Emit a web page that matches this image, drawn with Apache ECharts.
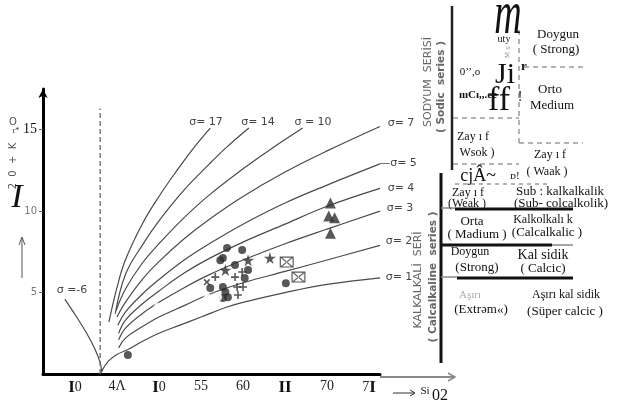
<!DOCTYPE html>
<html><head><meta charset="utf-8">
<script src="https://cdn.jsdelivr.net/npm/echarts@6/dist/echarts.min.js"></script>
<style>html,body{margin:0;padding:0;background:#fff}#c{width:617px;height:403px}</style>
</head><body><div id="c"></div>
<script>
// ---- tick labels ----
const xTickValues = [40, 45, 50, 55, 60, 65, 70, 75];
const xTickLabels = ["I0", "4Λ", "I0", "55", "60", "II", "70", "7I"];
const yTickValues = [5, 10, 15];
const yTickLabels = ["5", "10", "15"];

// ---- sigma curves (SiO2, Na2O+K2O) ----
const sigmaNames = ["σ= 17", "σ= 14", "σ = 10", "σ= 7", "σ= 5", "σ= 4", "σ= 3", "σ= 2", "σ= 1", "σ =-6"];
const sig17 = [[44.05,3.2],[45,5.3],[46,7.0],[48,9.2],[50,10.9],[52,12.4],[54,13.8],[56.1,15.1]];
const sig14 = [[44.8,3.7],[46,6.1],[48,7.9],[50,9.4],[53,11.3],[56,12.9],[58,13.9],[60.7,15.1]];
const sig10 = [[44.9,3.9],[46,5.2],[48,6.8],[50,8.0],[53,9.6],[56,11.0],[60,12.6],[63,13.7],[67.1,15.1]];
const sig7  = [[45.0,3.5],[46,4.4],[48,5.8],[50,6.9],[53,8.3],[56,9.5],[60,10.9],[65,12.4],[70,13.7],[76.3,15.2]];
const sig5  = [[45.1,3.0],[46,3.8],[48,4.9],[50,5.8],[53,7.0],[56,8.0],[60,9.2],[65,10.5],[70,11.6],[76.3,12.9]];
const sig4  = [[45.2,2.5],[46,3.3],[48,4.3],[50,5.1],[53,6.2],[56,7.1],[60,8.1],[65,9.2],[70,10.3],[76.3,11.4]];
const sig3  = [[45.2,2.1],[46,2.8],[48,3.7],[50,4.4],[53,5.3],[56,6.1],[60,7.0],[65,8.0],[70,8.9],[76.3,10.0]];
const sig2  = [[45.2,1.6],[46,2.2],[48,2.9],[50,3.5],[53,4.2],[56,4.9],[60,5.6],[65,6.3],[70,7.0],[76.3,7.9]];
const sig1  = [[43.1,0.1],[44,0.8],[45,1.2],[46.3,1.5],[48,2.0],[50,2.5],[52.5,3.0],[55,3.5],[58,4.1],[60,4.4],[65,5.0],[70,5.5],[76.3,5.9]];
const sigNeg6 = [[38.8,4.6],[40.2,3.5],[41.4,2.5],[42.4,1.5],[43.0,0.7],[43.2,0.1]];
const dashedLimit = [[43,0],[43,16.3]];

// ---- samples ----
const filledCircles = [[46.3,1.17],[58.1,7.73],[59.9,7.61],[57.3,6.99],[57.6,7.12],[59.05,6.69],[60.6,6.38],[60.2,5.89],[57.6,5.34],[57.9,5.03],[56.1,5.28],[58.2,4.72],[57.6,4.66],[65.1,5.58]];
const openCircles = [[56.8,8.77],[49.9,4.11],[58.8,7.42],[55.8,4.66],[56.4,4.6],[57.0,4.72]];
const stars = [[57.9,6.38],[63.2,7.12],[60.6,6.99]];
const pluses = [[56.7,5.95],[59.05,5.95],[59.9,6.26],[59.3,5.34],[60.0,5.34],[59.4,4.85]];
const crosses = [[55.7,5.64]];
const envelopes = [[65.2,6.87],[66.6,5.95]];
const triangles = [[70.4,10.5],[70.2,9.7],[70.9,9.6],[70.4,8.65]];

const SERIF = '"Liberation Serif", "DejaVu Serif", serif';
const SANS = '"DejaVu Sans", "Liberation Sans", sans-serif';

const curves = [sig17, sig14, sig10, sig7, sig5, sig4, sig3, sig2, sig1, sigNeg6];
const series = curves.map((d, i) => ({
  name: sigmaNames[i], type: 'line', data: d, smooth: 0.4, symbol: 'none',
  lineStyle: { color: '#4a4a4a', width: 1.2 }, silent: true, z: 2
}));
series.push({ type: 'line', data: dashedLimit, symbol: 'none',
  lineStyle: { color: '#666', width: 1.3, type: [5, 3] }, silent: true });

const starPath = 'path://M50,0 L61,35 L98,35 L68,57 L79,91 L50,70 L21,91 L32,57 L2,35 L39,35Z';
const plusPath = 'path://M4,0H6V4H10V6H6V10H4V6H0V4H4Z';
const envPath = 'path://M0,0H12V9H0Z M1,1V8H11V1Z M1,1L2.2,1L11,7.8L11,8L9.8,8L1,1.2Z M11,1L9.8,1L1,7.8L1,8L2.2,8L11,1.2Z';
function sc(data, symbol, size, extra) {
  return Object.assign({ type: 'scatter', data: data, symbol: symbol, symbolSize: size,
    itemStyle: { color: '#2e2e2e' }, silent: true, z: 5 }, extra || {});
}
series.push(sc(filledCircles, 'circle', 8));
series.push(sc(openCircles, 'emptyCircle', 6.5, { itemStyle: { color: '#fff', borderColor: '#444', borderWidth: 1.5 } }));
series.push(sc(stars, starPath, 12));
series.push(sc(pluses, plusPath, 8));
series.push(sc(crosses, plusPath, 8, { symbolRotate: 45 }));
series.push(sc(envelopes, envPath, [14, 11]));
series.push(sc(triangles, 'triangle', 11));

function T(text, x, y, size, opt) {
  opt = opt || {};
  return { type: 'text', x: x, y: y, rotation: opt.rot || 0, scaleX: opt.sx || 1, scaleY: opt.sy || 1,
    z: 10, silent: true,
    style: { text: text, fontSize: size, fontFamily: opt.font || SERIF, fontStyle: opt.italic ? 'italic' : 'normal',
      fontWeight: opt.bold ? 'bold' : 'normal', fill: opt.color || '#111', align: 'center', verticalAlign: 'middle' } };
}
function L(x1, y1, x2, y2, w, color, dash) {
  return { type: 'line', z: 9, silent: true, shape: { x1: x1, y1: y1, x2: x2, y2: y2 },
    style: { stroke: color || '#111', lineWidth: w, lineDash: dash || null } };
}
const DG = '#9a9a9a';
const graphics = [
  // sigma labels
  T(sigmaNames[0], 206, 122, 11, { font: SANS, color: '#444' }),
  T(sigmaNames[1], 258, 122, 11, { font: SANS, color: '#444' }),
  T(sigmaNames[2], 313, 122, 11, { font: SANS, color: '#444' }),
  T(sigmaNames[3], 401, 123, 11, { font: SANS, color: '#444' }),
  T('—' + sigmaNames[4], 398, 163, 11, { font: SANS, color: '#444' }),
  T(sigmaNames[5], 401, 188, 11, { font: SANS, color: '#444' }),
  T(sigmaNames[6], 400, 208, 11, { font: SANS, color: '#444' }),
  T(sigmaNames[7], 399, 241, 11, { font: SANS, color: '#444' }),
  T(sigmaNames[8], 399, 277, 11, { font: SANS, color: '#444' }),
  T(sigmaNames[9], 72, 290, 11, { font: SANS, color: '#444' }),
  // y axis title pieces
  T('O', 13, 122, 10, { font: SANS, color: '#555' }),
  T('r*', 16, 131, 8, { color: '#333' }),
  T('2  0  +  K', 13, 166, 10, { font: SANS, color: '#555', rot: Math.PI / 2 }),
  T('I', 17, 198, 34, { italic: true }),
  L(22, 278, 22, 238, 1, '#555'),
  { type: 'polyline', z: 9, silent: true, shape: { points: [[19, 245], [22, 237], [25, 245]] }, style: { stroke: '#555', lineWidth: 1, fill: null } },
  // x axis extension arrow & SiO2
  L(380, 377, 455, 377, 2, '#8a8a8a'),
  { type: 'polyline', z: 9, silent: true, shape: { points: [[448, 373], [455, 377], [448, 381]] }, style: { stroke: '#8a8a8a', lineWidth: 1.5, fill: null } },
  L(393, 393, 414, 393, 1, '#333'),
  { type: 'polyline', z: 9, silent: true, shape: { points: [[410, 390], [415, 393], [410, 396]] }, style: { stroke: '#333', lineWidth: 1, fill: null } },
  T('Si', 425, 391, 11),
  T('02', 440, 396, 16),
  // panel lines
  L(452, 6, 452, 170, 2.5, '#222'),
  L(441, 173, 441, 363, 3, '#111'),
  L(441, 208, 455, 208, 1.5, '#888'),
  L(455, 209, 573, 209, 3, '#111'),
  L(442, 245, 552, 245, 3, '#111'),
  L(552, 245, 573, 245, 1.5, '#888'),
  L(441, 277, 457, 277, 1.5, '#888'),
  L(457, 278, 573, 278, 3, '#111'),
  L(519, 30, 519, 143, 1.5, DG, [5, 4]),
  L(453, 118, 519, 118, 1.5, DG, [5, 4]),
  L(519, 143, 583, 143, 1.5, DG, [5, 4]),
  L(524, 67, 583, 67, 1.5, DG, [5, 4]),
  L(453, 164, 519, 164, 1.5, DG, [5, 4]),
  L(455, 184, 550, 184, 1.5, DG, [4, 4]),
  // rotated series names
  T('SODYUM  SERİSİ', 428, 82, 11, { font: SANS, color: '#666', rot: Math.PI / 2 }),
  T('( Sodic  series )', 441, 87, 10.5, { font: SANS, color: '#666', rot: Math.PI / 2, bold: true }),
  T('KALKALKALİ  SERİ', 418, 280, 11, { font: SANS, color: '#666', rot: Math.PI / 2 }),
  T('( Calcalkaline  series )', 433, 277, 10.5, { font: SANS, color: '#666', rot: Math.PI / 2, bold: true }),
  // upper panel texts
  T('m', 508, 17, 38, { italic: true, sy: 1.6 }),
  T('uty', 504, 39, 10),
  T('M s', 508, 52, 7, { font: SANS, color: '#999', rot: Math.PI / 2 }),
  T('Doygun', 558, 35, 13),
  T('( Strong)', 556, 50, 13),
  T('r', 524, 67, 13, { bold: true }),
  T('0’’,o', 470, 72, 11),
  T('Ji', 505, 75, 30),
  T('ıııCı,,.ee', 478, 95, 11, { bold: true }),
  T('ff', 499, 101, 34),
  T('!', 520, 97, 14),
  T('Orto', 550, 90, 13),
  T('Medium', 552, 106, 13),
  T('Zay ı f', 473, 137, 12),
  T('Wsok )', 477, 153, 12),
  T('Zay ı f', 550, 155, 12),
  T('( Waak )', 547, 172, 12),
  T('cjÂ~', 478, 176, 18),
  T('ᴅ!', 515, 176, 11),
  // lower panel texts
  T('Zay ı f', 468, 193, 12),
  T('(Weak )', 467, 204, 12),
  T('Sub : kalkalkalik', 560, 192, 13),
  T('(Sub- colcalkolik)', 561, 204, 13),
  T('Orta', 472, 222, 13),
  T('( Madium )', 477, 235, 13),
  T('Kalkolkalı k', 543, 220, 12),
  T('(Calcalkalic )', 547, 233, 13),
  T('Doygun', 470, 252, 12),
  T('(Strong)', 477, 268, 13),
  T('Kal sidik', 543, 255, 14),
  T('( Calcic)', 543, 269, 13),
  T('Aşırı', 470, 295, 11, { color: '#aaa' }),
  T('(Extrəm«)', 481, 310, 13),
  T('Aşırı kal sidik', 566, 295, 12),
  T('(Süper calcic )', 565, 312, 13)
];

const chart = echarts.init(document.getElementById('c'), null, { renderer: 'canvas' });
chart.setOption({
  animation: false,
  backgroundColor: '#fff',
  grid: { left: 43, top: 89, width: 337, height: 285, containLabel: false },
  xAxis: {
    type: 'value', min: 36.2, max: 76.3,
    axisLine: { lineStyle: { color: '#000', width: 3 } },
    axisTick: { show: false },
    splitLine: { show: false },
    axisLabel: {
      customValues: xTickValues, margin: 5,
      formatter: function (v) {
        const s = xTickLabels[xTickValues.indexOf(Math.round(v))] || '';
        return s.split('').map(c => c === 'I' ? '{b|I}' : '{n|' + c + '}').join('');
      },
      rich: {
        b: { fontFamily: SERIF, fontSize: 17, fontWeight: 'bold', color: '#111' },
        n: { fontFamily: SERIF, fontSize: 14, color: '#222' }
      }
    }
  },
  yAxis: {
    type: 'value', min: 0, max: 17.5,
    axisLine: { lineStyle: { color: '#000', width: 3 }, symbol: ['none', 'arrow'], symbolSize: [7, 9] },
    axisTick: { customValues: yTickValues, length: 4, lineStyle: { color: '#666' } },
    splitLine: { show: false },
    axisLabel: {
      customValues: yTickValues, margin: 6,
      formatter: function (v) {
        const s = yTickLabels[yTickValues.indexOf(Math.round(v))] || '';
        return v === 15 ? '{a|' + s + '}' : '{g|' + s + '}';
      },
      rich: {
        a: { fontFamily: SERIF, fontSize: 14, color: '#111' },
        g: { fontFamily: SANS, fontSize: 10, color: '#777' }
      }
    }
  },
  series: series,
  graphic: graphics
});
</script>
</body></html>
